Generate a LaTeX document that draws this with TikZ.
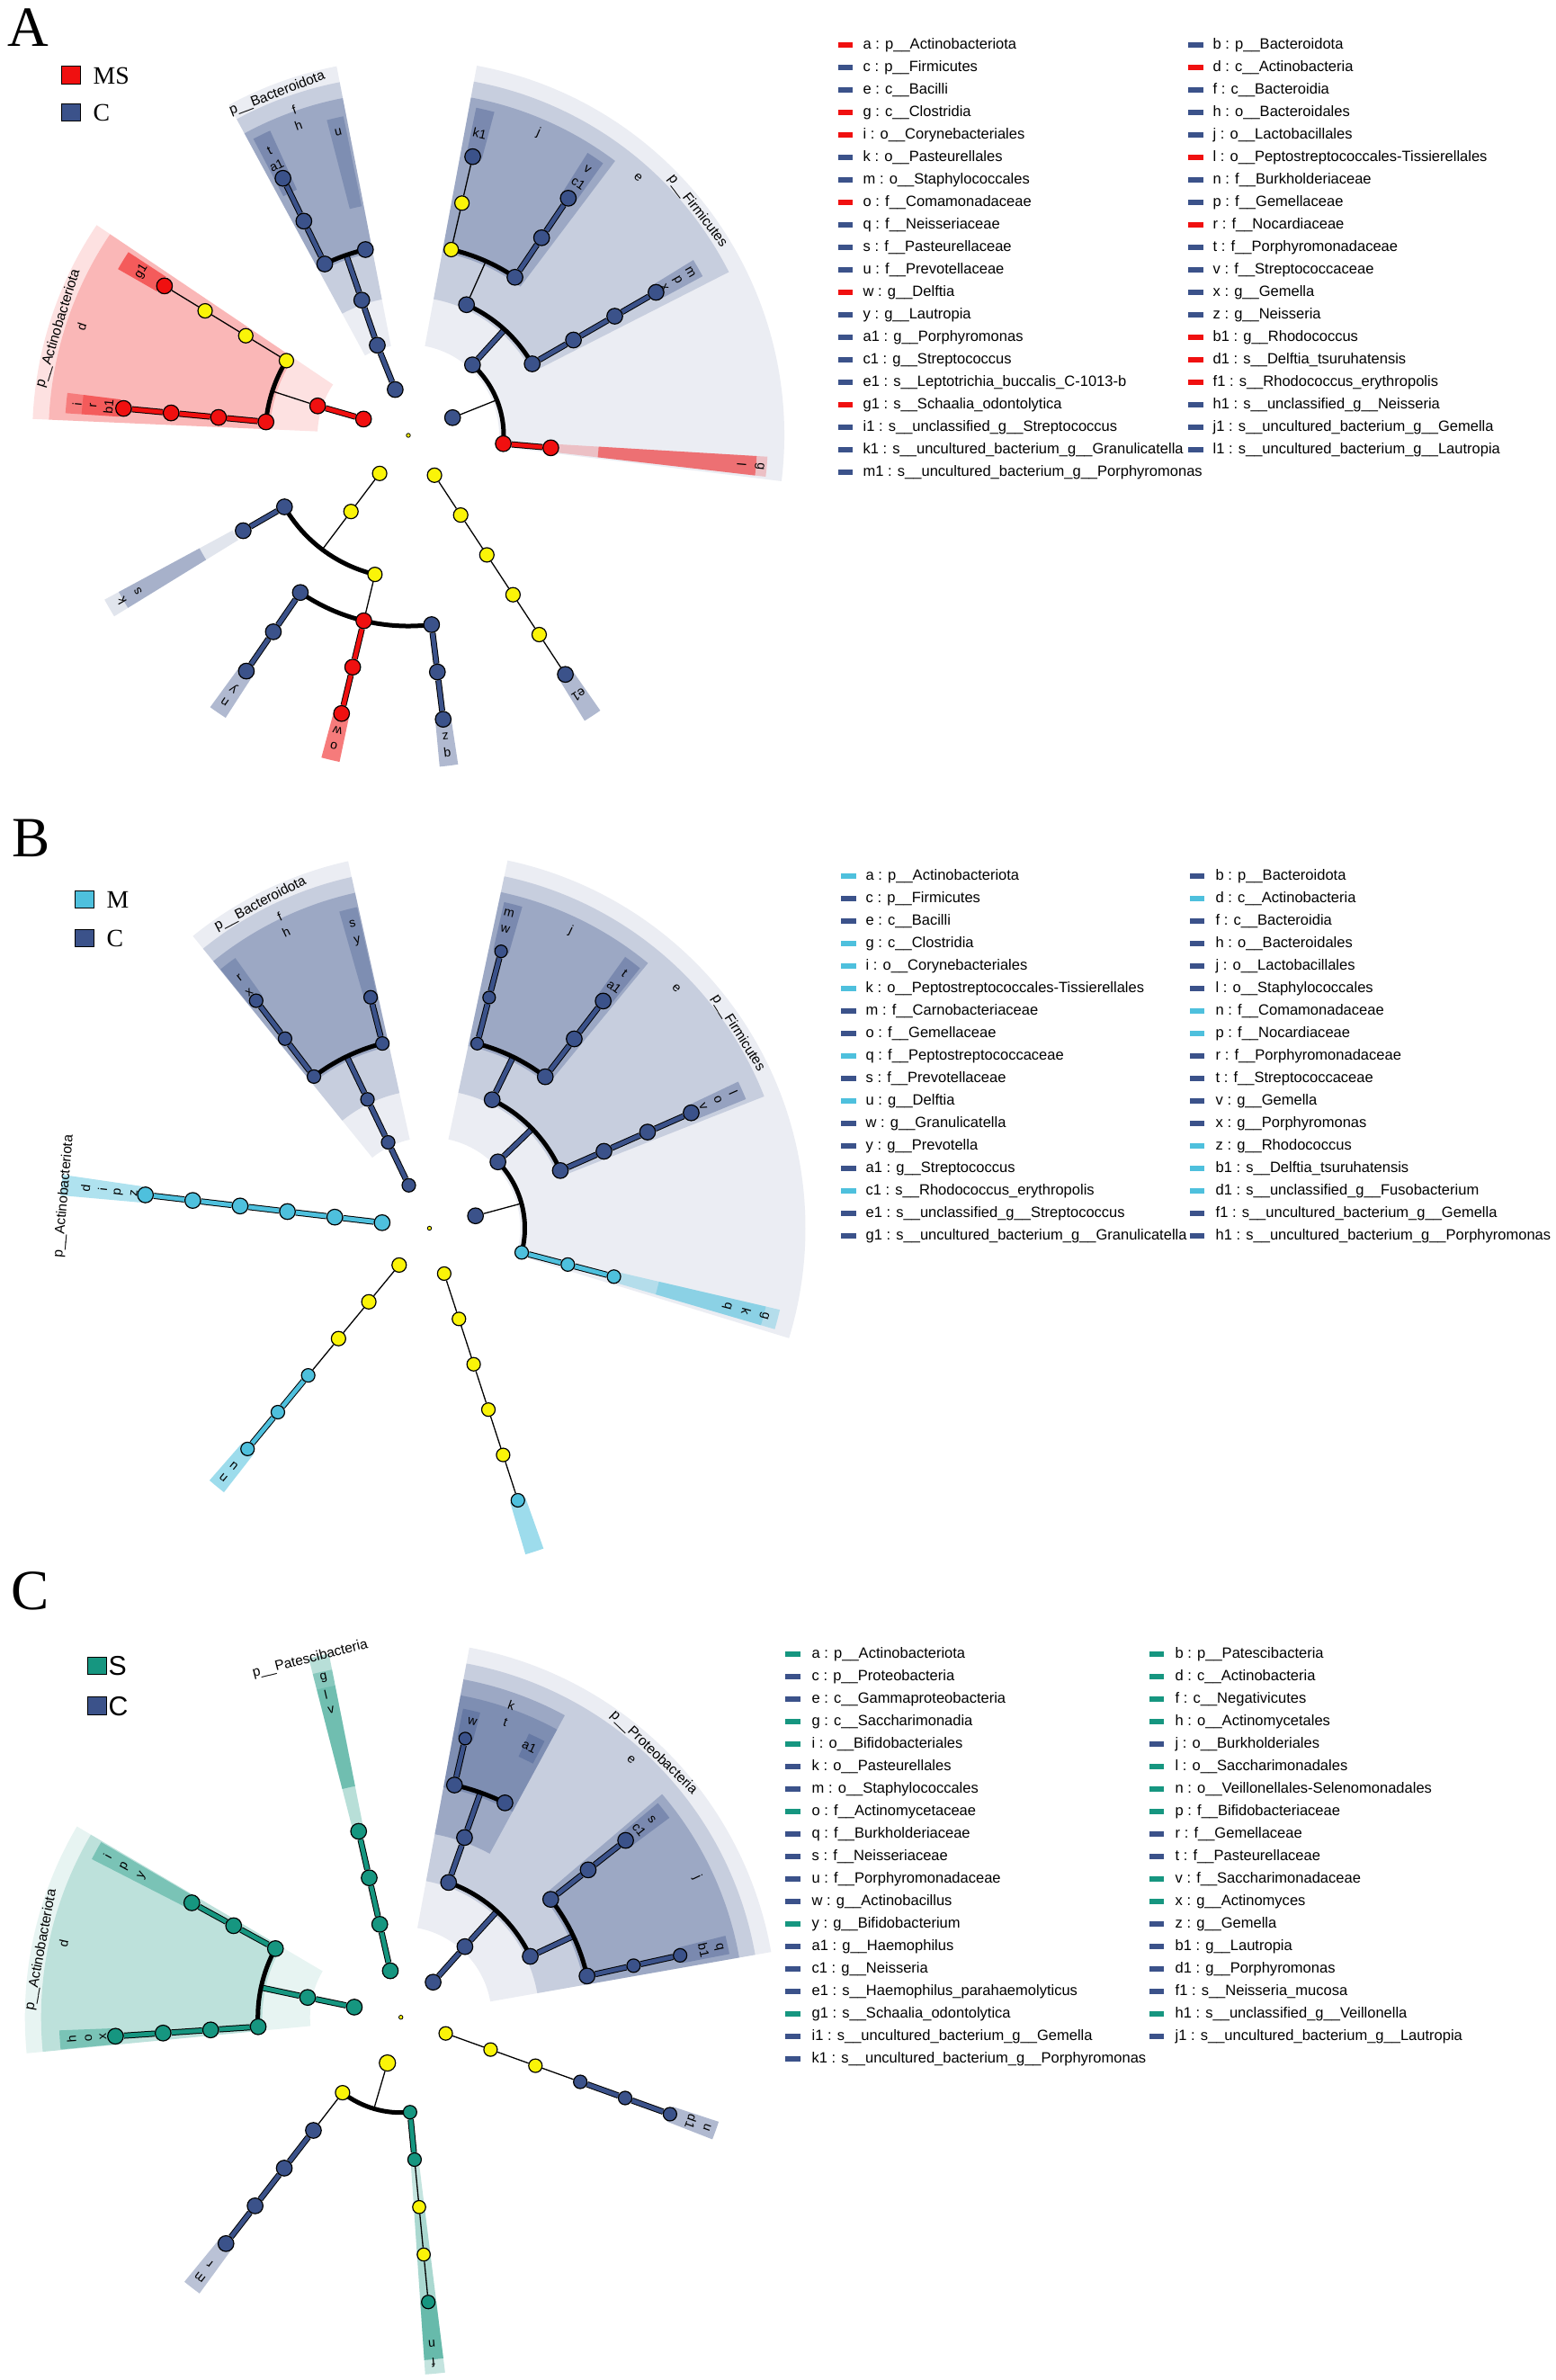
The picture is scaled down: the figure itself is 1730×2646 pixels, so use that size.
\documentclass[tikz,border=0pt]{standalone}
\usepackage{fontspec}
\setmainfont{Liberation Sans}
\newfontfamily\timesfont{Liberation Serif}
\usetikzlibrary{calc}

\definecolor{msred}{RGB}{240,16,16}
\definecolor{ctnavy}{RGB}{59,82,138}
\definecolor{mcyan}{RGB}{78,192,221}
\definecolor{steal}{RGB}{22,150,128}
\definecolor{nsyellow}{RGB}{250,244,8}

\pgfdeclarelayer{canvas}
\pgfdeclarelayer{sect}
\pgfdeclarelayer{link}
\pgfsetlayers{canvas,sect,link,main}

\tikzset{
  tx/.style={circle, draw=black, line width=0.12mm, minimum size=1.75mm, inner sep=0pt},
  ms/.style={tx, fill=msred},
  ct/.style={tx, fill=ctnavy},
  mm/.style={tx, fill=mcyan},
  ss/.style={tx, fill=steal},
  ns/.style={tx, fill=nsyellow, minimum size=1.6mm},
  root/.style={tx, fill=nsyellow, minimum size=0.45mm, line width=0.08mm},
  thin link/.style={draw=black, line width=0.13mm},
  sig link/.style={draw=black, line width=0.1mm, double=#1, double distance=0.48mm},
  clade arc/.style={draw=black, line width=0.5mm},
  clab/.style={inner sep=0pt, font=\fontsize{4}{4}\selectfont},
  phylab/.style={inner sep=0pt, font=\fontsize{4.4}{4.4}\selectfont},
  legtxt/.style={anchor=west, inner sep=0pt, font=\fontsize{4.7}{5}\selectfont},
  keybox/.style={rectangle, draw=black, line width=0.1mm, minimum width=2.1mm, minimum height=1.95mm, inner sep=0pt},
  keytxt/.style={anchor=west, inner sep=0pt, font=\timesfont\fontsize{7.9}{8}\selectfont},
  panlab/.style={inner sep=0pt, font=\timesfont\fontsize{18}{18}\selectfont}
}

% annular sector: start angle, end angle, inner r, outer r, colour, opacity
\newcommand{\cladebg}[6]{\fill[#5, fill opacity=#6] (#1:#3) arc[start angle=#1, end angle=#2, radius=#3] -- (#2:#4) arc[start angle=#2, end angle=#1, radius=#4] -- cycle;}
\newcommand{\cladelabel}[5][clab]{\node[#1, rotate={#3-90}] (#2) at (#3:#4) {#5};}

\begin{document}
\begin{tikzpicture}[x=0.1mm, y=0.1mm]
\useasboundingbox (0,0) rectangle (1730,-2646);
\begin{pgfonlayer}{canvas}
  \fill[white] (0,0) rectangle (1730,-2646);
\end{pgfonlayer}

% panel A
\node[panlab] (panA) at (31,-31) {A};
\node[keybox, fill=msred] (keyA1) at (78.7,-83.7) {};
\node[keytxt] (keyA1t) at (103,-84) {MS};
\node[keybox, fill=ctnavy] (keyA2) at (78.7,-125) {};
\node[keytxt] (keyA2t) at (103,-125) {C};

\begin{scope}[shift={(454,-484)}]
  \node[root] (Aroot) at (0,0) {};
  \node[ms] (Aa) at (160:53) {};
  \node[ms] (Ad) at (162:106) {};
  \coordinate (Adj) at (162:159);
  \node[ms] (Ai) at (174.6:159) {};
  \node[ms] (Ar) at (174.6:212) {};
  \node[ms] (Ab1) at (174.6:265) {};
  \node[ms] (Af1) at (174.6:318) {};
  \node[ns] (Ayac3) at (148.5:159) {};
  \node[ns] (Ayac4) at (148.5:212) {};
  \node[ns] (Ayac5) at (148.5:265) {};
  \node[ms] (Ag1) at (148.5:318) {};

  \node[ct] (Ab) at (106:53) {};
  \node[ct] (Af) at (109:106) {};
  \node[ct] (Ah) at (109:159) {};
  \coordinate (Ahj) at (109:212);
  \node[ct] (At) at (116:212) {};
  \node[ct] (Aa1) at (116:265) {};
  \node[ct] (Am1) at (116:318) {};
  \node[ct] (Au) at (103:212) {};

  \node[ct] (Ac) at (21.8:53) {};
  \coordinate (Acj) at (21.8:106);
  \node[ms] (Ag) at (-5:106) {};
  \node[ms] (Al) at (-5:159) {};
  \node[ct] (Ae) at (47.7:106) {};
  \coordinate (Aej) at (47.7:159);
  \node[ct] (Am) at (30:159) {};
  \node[ct] (Ap) at (30:212) {};
  \node[ct] (Ax) at (30:265) {};
  \node[ct] (Aj1) at (30:318) {};
  \node[ct] (Aj) at (66:159) {};
  \coordinate (Ajj) at (66:212);
  \node[ct] (Av) at (56:212) {};
  \node[ct] (Ac1) at (56:265) {};
  \node[ct] (Ai1) at (56:318) {};
  \node[ns] (Ayfi4) at (77:212) {};
  \node[ns] (Ayfi5) at (77:265) {};
  \node[ct] (Ak1) at (77:318) {};

  \node[ns] (Aypr1) at (233:53) {};
  \node[ns] (Aypr2) at (233:106) {};
  \coordinate (Aprj) at (233:159);
  \node[ct] (Ak) at (210:159) {};
  \node[ct] (As) at (210:212) {};
  \node[ns] (Aypr3) at (256.5:159) {};
  \node[ct] (An) at (235.5:212) {};
  \node[ct] (Ay) at (235.5:265) {};
  \node[ct] (Al1) at (235.5:318) {};
  \node[ms] (Ao) at (256.5:212) {};
  \node[ms] (Aw) at (256.5:265) {};
  \node[ms] (Ad1) at (256.5:318) {};
  \node[ct] (Aq) at (277:212) {};
  \node[ct] (Az) at (277:265) {};
  \node[ct] (Ah1) at (277:318) {};

  \node[ns] (Ayfu1) at (303.3:53) {};
  \node[ns] (Ayfu2) at (303.3:106) {};
  \node[ns] (Ayfu3) at (303.3:159) {};
  \node[ns] (Ayfu4) at (303.3:212) {};
  \node[ns] (Ayfu5) at (303.3:265) {};
  \node[ct] (Ae1) at (303.3:318) {};

  \begin{pgfonlayer}{link}
    \draw[sig link=msred] (Aa) -- (Ad);
    \draw[thin link] (Ad) -- (Adj);
    \draw[clade arc] (Ayac3.center) arc[start angle=148.5, end angle=174.6, radius=159];
    \draw[sig link=msred] (Ai) -- (Ar) -- (Ab1) -- (Af1);
    \draw[thin link] (Ayac3) -- (Ayac4) -- (Ayac5) -- (Ag1);
    \draw[sig link=ctnavy] (Ab) -- (Af) -- (Ah) -- (Ahj);
    \draw[clade arc] (Au.center) arc[start angle=103, end angle=116, radius=212];
    \draw[sig link=ctnavy] (At) -- (Aa1) -- (Am1);
    \draw[thin link] (Ac) -- (Acj);
    \draw[clade arc] (Ag.center) arc[start angle=-5, end angle=47.7, radius=106];
    \draw[sig link=msred] (Ag) -- (Al);
    \draw[sig link=ctnavy] (Ae) -- (Aej);
    \draw[clade arc] (Am.center) arc[start angle=30, end angle=66, radius=159];
    \draw[sig link=ctnavy] (Am) -- (Ap) -- (Ax) -- (Aj1);
    \draw[thin link] (Aj) -- (Ajj);
    \draw[clade arc] (Av.center) arc[start angle=56, end angle=77, radius=212];
    \draw[sig link=ctnavy] (Av) -- (Ac1) -- (Ai1);
    \draw[thin link] (Ayfi4) -- (Ayfi5) -- (Ak1);
    \draw[thin link] (Aypr1) -- (Aypr2) -- (Aprj);
    \draw[clade arc] (Ak.center) arc[start angle=210, end angle=256.5, radius=159];
    \draw[sig link=ctnavy] (Ak) -- (As);
    \draw[thin link] (Aypr3) -- (Ao);
    \draw[clade arc] (An.center) arc[start angle=235.5, end angle=277, radius=212];
    \draw[sig link=ctnavy] (An) -- (Ay) -- (Al1);
    \draw[sig link=msred] (Ao) -- (Aw) -- (Ad1);
    \draw[sig link=ctnavy] (Aq) -- (Az) -- (Ah1);
    \draw[thin link] (Ayfu1) -- (Ayfu2) -- (Ayfu3) -- (Ayfu4) -- (Ayfu5) -- (Ae1);
  \end{pgfonlayer}

  \begin{pgfonlayer}{sect}
    \cladebg{146}{177.5}{101}{418}{msred}{0.12}
    \cladebg{146}{177.5}{154}{400}{msred}{0.2}
    \cladebg{172.9}{176.3}{322}{382}{msred}{0.35}
    \cladebg{172.9}{176.3}{322}{364}{msred}{0.3}
    \cladebg{146.8}{150.2}{322}{372}{msred}{0.55}
    \cladebg{101}{118.5}{101}{418}{ctnavy}{0.1}
    \cladebg{101}{118.5}{154}{400}{ctnavy}{0.2}
    \cladebg{101}{118.5}{207}{382}{ctnavy}{0.3}
    \cladebg{101.5}{104.5}{260}{362}{ctnavy}{0.3}
    \cladebg{114.4}{117.6}{300}{372}{ctnavy}{0.35}
    \cladebg{-7}{79.5}{101}{418}{ctnavy}{0.1}
    \cladebg{27}{79.5}{154}{400}{ctnavy}{0.2}
    \cladebg{53}{79.5}{207}{382}{ctnavy}{0.3}
    \cladebg{28.4}{31.6}{318}{372}{ctnavy}{0.35}
    \cladebg{54.4}{57.6}{318}{372}{ctnavy}{0.35}
    \cladebg{75.1}{78.3}{318}{372}{ctnavy}{0.35}
    \cladebg{-6.6}{-3.4}{165}{400}{msred}{0.2}
    \cladebg{-6.6}{-3.4}{212}{388}{msred}{0.45}
    \cladebg{208.4}{211.6}{222}{384}{ctnavy}{0.15}
    \cladebg{208.4}{211.6}{264}{366}{ctnavy}{0.35}
    \cladebg{233.9}{237.1}{318}{374}{ctnavy}{0.4}
    \cladebg{254.9}{258.1}{318}{371}{msred}{0.55}
    \cladebg{275.4}{278.6}{318}{370}{ctnavy}{0.4}
    \cladebg{301.7}{304.9}{318}{373}{ctnavy}{0.4}
  \end{pgfonlayer}

  \cladelabel[phylab]{LAa}{163}{407}{p\_\_Actinobacteriota}
  \cladelabel{LAd}{161.6}{383}{d}
  \cladelabel{LAi}{174.6}{370}{i}
  \cladelabel{LAr}{174.6}{352}{r}
  \cladelabel{LAb1}{174.6}{335}{b1}
  \cladelabel{LAg1}{148.5}{348}{g1}
  \cladelabel[phylab]{LAb}{111}{407}{p\_\_Bacteroidota}
  \cladelabel{LAf}{109.3}{384}{f}
  \cladelabel{LAh}{109.5}{366}{h}
  \cladelabel{LAu}{103}{346}{u}
  \cladelabel{LAt}{116}{352}{t}
  \cladelabel{LAa1}{116}{334}{a1}
  \cladelabel[phylab]{LAc}{37.8}{407}{p\_\_Firmicutes}
  \cladelabel{LAe}{48.3}{384}{e}
  \cladelabel{LAj}{66.7}{366}{j}
  \cladelabel{LAm}{30}{362}{m}
  \cladelabel{LAp}{30}{345}{p}
  \cladelabel{LAx}{30}{329}{x}
  \cladelabel{LAv}{56}{356}{v}
  \cladelabel{LAc1}{56}{338}{c1}
  \cladelabel{LAk1}{76.7}{345}{k1}
  \cladelabel{LAg}{-5}{392}{g}
  \cladelabel{LAl}{-5}{372}{l}
  \cladelabel{LAk}{210}{368}{k}
  \cladelabel{LAs}{210}{347}{s}
  \cladelabel{LAn}{235.5}{360}{n}
  \cladelabel{LAy}{235.5}{342}{y}
  \cladelabel{LAo}{256.5}{355}{o}
  \cladelabel{LAw}{256.5}{337}{w}
  \cladelabel{LAq}{277}{355}{q}
  \cladelabel{LAz}{277}{337}{z}
  \cladelabel{LAe1}{303.3}{345}{e1}
\end{scope}

\foreach \col/\txt [count=\i from 0] in {msred/{a : p\_\_Actinobacteriota}, ctnavy/{c : p\_\_Firmicutes}, ctnavy/{e : c\_\_Bacilli}, msred/{g : c\_\_Clostridia}, msred/{i : o\_\_Corynebacteriales}, ctnavy/{k : o\_\_Pasteurellales}, ctnavy/{m : o\_\_Staphylococcales}, msred/{o : f\_\_Comamonadaceae}, ctnavy/{q : f\_\_Neisseriaceae}, ctnavy/{s : f\_\_Pasteurellaceae}, ctnavy/{u : f\_\_Prevotellaceae}, msred/{w : g\_\_Delftia}, ctnavy/{y : g\_\_Lautropia}, ctnavy/{a1 : g\_\_Porphyromonas}, ctnavy/{c1 : g\_\_Streptococcus}, ctnavy/{e1 : s\_\_Leptotrichia\_buccalis\_C-1013-b}, msred/{g1 : s\_\_Schaalia\_odontolytica}, ctnavy/{i1 : s\_\_unclassified\_g\_\_Streptococcus}, ctnavy/{k1 : s\_\_uncultured\_bacterium\_g\_\_Granulicatella}, ctnavy/{m1 : s\_\_uncultured\_bacterium\_g\_\_Porphyromonas}}{
  \fill[\col] (932,{-50-25*\i+3}) rectangle (948,{-50-25*\i-3});
  \node[legtxt] (legAL\i) at (959,{-50-25*\i}) {\txt};
}
\foreach \col/\txt [count=\i from 0] in {ctnavy/{b : p\_\_Bacteroidota}, msred/{d : c\_\_Actinobacteria}, ctnavy/{f : c\_\_Bacteroidia}, ctnavy/{h : o\_\_Bacteroidales}, ctnavy/{j : o\_\_Lactobacillales}, msred/{l : o\_\_Peptostreptococcales-Tissierellales}, ctnavy/{n : f\_\_Burkholderiaceae}, ctnavy/{p : f\_\_Gemellaceae}, msred/{r : f\_\_Nocardiaceae}, ctnavy/{t : f\_\_Porphyromonadaceae}, ctnavy/{v : f\_\_Streptococcaceae}, ctnavy/{x : g\_\_Gemella}, ctnavy/{z : g\_\_Neisseria}, msred/{b1 : g\_\_Rhodococcus}, msred/{d1 : s\_\_Delftia\_tsuruhatensis}, msred/{f1 : s\_\_Rhodococcus\_erythropolis}, ctnavy/{h1 : s\_\_unclassified\_g\_\_Neisseria}, ctnavy/{j1 : s\_\_uncultured\_bacterium\_g\_\_Gemella}, ctnavy/{l1 : s\_\_uncultured\_bacterium\_g\_\_Lautropia}}{
  \fill[\col] (1321,{-50-25*\i+3}) rectangle (1338,{-50-25*\i-3});
  \node[legtxt] (legAR\i) at (1348,{-50-25*\i}) {\txt};
}

% panel B
\node[panlab] (panB) at (35,-932) {B};
\node[keybox, fill=mcyan] (keyB1) at (93.5,-1000) {};
\node[keytxt] (keyB1t) at (118,-1000) {M};
\node[keybox, fill=ctnavy] (keyB2) at (93.5,-1043) {};
\node[keytxt] (keyB2t) at (118,-1043) {C};

\begin{scope}[shift={(477.5,-1365.5)}]
  \node[root] (Broot) at (0,0) {};
  \node[mm] (Ba) at (173.3:53) {};
  \node[mm] (Bd) at (173.3:106) {};
  \node[mm] (Bi) at (173.3:159) {};
  \node[mm] (Bp) at (173.3:212) {};
  \node[mm] (Bz) at (173.3:265) {};
  \node[mm] (Bc1) at (173.3:318) {};

  \node[ct, minimum size=1.5mm] (Bb) at (115.7:53) {};
  \node[ct, minimum size=1.5mm] (Bf) at (115.7:106) {};
  \node[ct, minimum size=1.5mm] (Bh) at (115.7:159) {};
  \coordinate (Bhj) at (115.7:212);
  \node[ct, minimum size=1.5mm] (Br) at (127.3:212) {};
  \node[ct, minimum size=1.5mm] (Bx) at (127.3:265) {};
  \node[ct, minimum size=1.5mm] (Bh1) at (127.3:318) {};
  \node[ct, minimum size=1.5mm] (Bs) at (104.3:212) {};
  \node[ct, minimum size=1.5mm] (By) at (104.3:265) {};

  \node[ct] (Bc) at (15.1:53) {};
  \coordinate (Bcj) at (15.1:106);
  \node[mm, minimum size=1.5mm] (Bg) at (-14.7:106) {};
  \node[mm, minimum size=1.5mm] (Bk) at (-14.7:159) {};
  \node[mm, minimum size=1.5mm] (Bq) at (-14.7:212) {};
  \node[ct] (Be) at (44.1:106) {};
  \coordinate (Bej) at (44.1:159);
  \node[ct] (Bl) at (23.8:159) {};
  \node[ct] (Bo) at (23.8:212) {};
  \node[ct] (Bv) at (23.8:265) {};
  \node[ct] (Bf1) at (23.8:318) {};
  \node[ct] (Bj) at (64:159) {};
  \coordinate (Bjj) at (64:212);
  \node[ct] (Bt) at (52.6:212) {};
  \node[ct] (Ba1) at (52.6:265) {};
  \node[ct] (Be1) at (52.6:318) {};
  \node[ct, minimum size=1.4mm] (Bm) at (75.5:212) {};
  \node[ct, minimum size=1.4mm] (Bw) at (75.5:265) {};
  \node[ct, minimum size=1.4mm] (Bg1) at (75.5:318) {};

  \node[ns] (Bypr1) at (230.5:53) {};
  \node[ns] (Bypr2) at (230.5:106) {};
  \node[ns] (Bypr3) at (230.5:159) {};
  \node[mm, minimum size=1.5mm] (Bn) at (230.5:212) {};
  \node[mm, minimum size=1.5mm] (Bu) at (230.5:265) {};
  \node[mm, minimum size=1.5mm] (Bb1) at (230.5:318) {};

  \node[ns, minimum size=1.5mm] (Byfu1) at (288:53) {};
  \node[ns, minimum size=1.5mm] (Byfu2) at (288:106) {};
  \node[ns, minimum size=1.5mm] (Byfu3) at (288:159) {};
  \node[ns, minimum size=1.5mm] (Byfu4) at (288:212) {};
  \node[ns, minimum size=1.5mm] (Byfu5) at (288:265) {};
  \node[mm, minimum size=1.5mm] (Bd1) at (288:318) {};

  \begin{pgfonlayer}{link}
    \draw[sig link=mcyan] (Ba) -- (Bd) -- (Bi) -- (Bp) -- (Bz) -- (Bc1);
    \draw[sig link=ctnavy] (Bb) -- (Bf) -- (Bh) -- (Bhj);
    \draw[clade arc] (Bs.center) arc[start angle=104.3, end angle=127.3, radius=212];
    \draw[sig link=ctnavy] (Br) -- (Bx) -- (Bh1);
    \draw[sig link=ctnavy] (Bs) -- (By);
    \draw[thin link] (Bc) -- (Bcj);
    \draw[clade arc] (Bg.center) arc[start angle=-14.7, end angle=44.1, radius=106];
    \draw[sig link=mcyan] (Bg) -- (Bk) -- (Bq);
    \draw[sig link=ctnavy] (Be) -- (Bej);
    \draw[clade arc] (Bl.center) arc[start angle=23.8, end angle=64, radius=159];
    \draw[sig link=ctnavy] (Bl) -- (Bo) -- (Bv) -- (Bf1);
    \draw[sig link=ctnavy] (Bj) -- (Bjj);
    \draw[clade arc] (Bt.center) arc[start angle=52.6, end angle=75.5, radius=212];
    \draw[sig link=ctnavy] (Bt) -- (Ba1) -- (Be1);
    \draw[sig link=ctnavy] (Bm) -- (Bw) -- (Bg1);
    \draw[thin link] (Bypr1) -- (Bypr2) -- (Bypr3) -- (Bn);
    \draw[sig link=mcyan] (Bn) -- (Bu) -- (Bb1);
    \draw[thin link] (Byfu1) -- (Byfu2) -- (Byfu3) -- (Byfu4) -- (Byfu5) -- (Bd1);
  \end{pgfonlayer}

  \begin{pgfonlayer}{sect}
    \cladebg{102.5}{129}{101}{418}{ctnavy}{0.1}
    \cladebg{102.5}{129}{154}{400}{ctnavy}{0.2}
    \cladebg{102.5}{129}{207}{382}{ctnavy}{0.3}
    \cladebg{125.7}{128.9}{318}{370}{ctnavy}{0.3}
    \cladebg{102.7}{105.9}{268}{366}{ctnavy}{0.3}
    \cladebg{-17}{78}{101}{418}{ctnavy}{0.1}
    \cladebg{21.5}{78}{154}{400}{ctnavy}{0.2}
    \cladebg{50.5}{78}{207}{382}{ctnavy}{0.3}
    \cladebg{22.2}{25.4}{318}{380}{ctnavy}{0.35}
    \cladebg{51}{54.2}{318}{372}{ctnavy}{0.35}
    \cladebg{73.9}{77.1}{318}{372}{ctnavy}{0.35}
    \cladebg{-16.3}{-13.1}{218}{400}{mcyan}{0.35}
    \cladebg{-16.3}{-13.1}{262}{384}{mcyan}{0.4}
    \cladebg{171.7}{174.9}{322}{412}{mcyan}{0.45}
    \cladebg{228.9}{232.1}{318}{372}{mcyan}{0.55}
    \cladebg{286.4}{289.6}{318}{378}{mcyan}{0.55}
  \end{pgfonlayer}

  \cladelabel[phylab]{LBa}{175}{408}{p\_\_Actinobacteriota}
  \cladelabel{LBd}{173.3}{385}{d}
  \cladelabel{LBi}{173.3}{366}{i}
  \cladelabel{LBp}{173.3}{348}{p}
  \cladelabel{LBz}{173.3}{331}{z}
  \cladelabel[phylab]{LBb}{117.5}{407}{p\_\_Bacteroidota}
  \cladelabel{LBf}{115.7}{384}{f}
  \cladelabel{LBh}{115.8}{366}{h}
  \cladelabel{LBr}{127.2}{349}{r}
  \cladelabel{LBx}{127.4}{330}{x}
  \cladelabel{LBs}{104.2}{349}{s}
  \cladelabel{LBy}{104.1}{329}{y}
  \cladelabel[phylab]{LBc}{32.3}{406}{p\_\_Firmicutes}
  \cladelabel{LBe}{44.2}{383}{e}
  \cladelabel{LBj}{64.6}{366}{j}
  \cladelabel{LBg}{-14.7}{385}{g}
  \cladelabel{LBk}{-14.7}{364}{k}
  \cladelabel{LBq}{-14.7}{342}{q}
  \cladelabel{LBl}{24}{370}{l}
  \cladelabel{LBo}{24}{351}{o}
  \cladelabel{LBv}{24}{333}{v}
  \cladelabel{LBm}{75.8}{361}{m}
  \cladelabel{LBw}{75.8}{343}{w}
  \cladelabel{LBt}{52.6}{357}{t}
  \cladelabel{LBa1}{52.6}{338}{a1}
  \cladelabel{LBn}{230.5}{360}{n}
  \cladelabel{LBu}{230.5}{342}{u}
\end{scope}

\foreach \col/\txt [count=\i from 0] in {mcyan/{a : p\_\_Actinobacteriota}, ctnavy/{c : p\_\_Firmicutes}, ctnavy/{e : c\_\_Bacilli}, mcyan/{g : c\_\_Clostridia}, mcyan/{i : o\_\_Corynebacteriales}, mcyan/{k : o\_\_Peptostreptococcales-Tissierellales}, ctnavy/{m : f\_\_Carnobacteriaceae}, ctnavy/{o : f\_\_Gemellaceae}, mcyan/{q : f\_\_Peptostreptococcaceae}, ctnavy/{s : f\_\_Prevotellaceae}, mcyan/{u : g\_\_Delftia}, ctnavy/{w : g\_\_Granulicatella}, ctnavy/{y : g\_\_Prevotella}, ctnavy/{a1 : g\_\_Streptococcus}, mcyan/{c1 : s\_\_Rhodococcus\_erythropolis}, ctnavy/{e1 : s\_\_unclassified\_g\_\_Streptococcus}, ctnavy/{g1 : s\_\_uncultured\_bacterium\_g\_\_Granulicatella}}{
  \fill[\col] (935,{-974-25*\i+3}) rectangle (952,{-974-25*\i-3});
  \node[legtxt] (legBL\i) at (962,{-974-25*\i}) {\txt};
}
\foreach \col/\txt [count=\i from 0] in {ctnavy/{b : p\_\_Bacteroidota}, mcyan/{d : c\_\_Actinobacteria}, ctnavy/{f : c\_\_Bacteroidia}, ctnavy/{h : o\_\_Bacteroidales}, ctnavy/{j : o\_\_Lactobacillales}, ctnavy/{l : o\_\_Staphylococcales}, mcyan/{n : f\_\_Comamonadaceae}, mcyan/{p : f\_\_Nocardiaceae}, ctnavy/{r : f\_\_Porphyromonadaceae}, ctnavy/{t : f\_\_Streptococcaceae}, ctnavy/{v : g\_\_Gemella}, ctnavy/{x : g\_\_Porphyromonas}, mcyan/{z : g\_\_Rhodococcus}, mcyan/{b1 : s\_\_Delftia\_tsuruhatensis}, mcyan/{d1 : s\_\_unclassified\_g\_\_Fusobacterium}, ctnavy/{f1 : s\_\_uncultured\_bacterium\_g\_\_Gemella}, ctnavy/{h1 : s\_\_uncultured\_bacterium\_g\_\_Porphyromonas}}{
  \fill[\col] (1323,{-974-25*\i+3}) rectangle (1339,{-974-25*\i-3});
  \node[legtxt] (legBR\i) at (1351,{-974-25*\i}) {\txt};
}

% panel C
\node[panlab] (panC) at (34,-1769) {C};
\node[keybox, fill=steal] (keyC1) at (108,-1852) {};
\node[keytxt, font=\fontsize{8.6}{9}\selectfont] (keyC1t) at (120,-1852) {S};
\node[keybox, fill=ctnavy] (keyC2) at (108,-1896.6) {};
\node[keytxt, font=\fontsize{8.6}{9}\selectfont] (keyC2t) at (120,-1896.6) {C};

\begin{scope}[shift={(445.7,-2242.7)}]
  \node[root] (Croot) at (0,0) {};
  \node[ss] (Cb) at (102.8:53) {};
  \node[ss] (Cg) at (102.8:106) {};
  \node[ss] (Cl) at (102.8:159) {};
  \node[ss] (Cv) at (102.8:212) {};

  \node[ss] (Ca) at (167.7:53) {};
  \node[ss] (Cd) at (168:106) {};
  \coordinate (Cdj) at (168:159);
  \node[ss] (Ci) at (151.3:159) {};
  \node[ss] (Cp) at (151.3:212) {};
  \node[ss] (Cy) at (151.3:265) {};
  \node[ss] (Ch) at (183.8:159) {};
  \node[ss] (Co) at (183.8:212) {};
  \node[ss] (Cx) at (183.8:265) {};
  \node[ss] (Cg1) at (183.8:318) {};

  \node[ct] (Cc) at (47.4:53) {};
  \node[ct] (Ce) at (47.8:106) {};
  \coordinate (Cej) at (47.8:159);
  \node[ct] (Ck) at (70.5:159) {};
  \node[ct] (Ct) at (70.5:212) {};
  \coordinate (Ctj) at (70.5:265);
  \node[ct] (Ca1) at (64.1:265) {};
  \node[ct] (Cw) at (77:265) {};
  \node[ct, minimum size=1.4mm] (Ce1) at (77:318) {};
  \node[ct] (Cj) at (25.2:159) {};
  \coordinate (Cjj) at (25.2:212);
  \node[ct] (Cs) at (38.2:212) {};
  \node[ct] (Cc1) at (38.2:265) {};
  \node[ct] (Cf1) at (38.2:318) {};
  \node[ct] (Cq) at (12.5:212) {};
  \node[ct, minimum size=1.5mm] (Cb1) at (12.5:265) {};
  \node[ct, minimum size=1.5mm] (Cj1) at (12.5:318) {};

  \node[ns, minimum size=1.8mm] (Cyfi1) at (253.6:53) {};
  \coordinate (Cfij) at (253.6:106);
  \node[ns] (Cyfi2) at (232.3:106) {};
  \node[ct] (Cm) at (232.3:159) {};
  \node[ct] (Cr) at (232.3:212) {};
  \node[ct] (Cz) at (232.3:265) {};
  \node[ct] (Ci1) at (232.3:318) {};
  \node[ss, minimum size=1.5mm] (Cf) at (275.5:106) {};
  \node[ss, minimum size=1.5mm] (Cn) at (275.5:159) {};
  \node[ns, minimum size=1.45mm] (Cyve4) at (275.5:212) {};
  \node[ns, minimum size=1.45mm] (Cyve5) at (275.5:265) {};
  \node[ss, minimum size=1.5mm] (Ch1) at (275.5:318) {};

  \node[ns, minimum size=1.5mm] (Cyba1) at (-19.8:53) {};
  \node[ns, minimum size=1.5mm] (Cyba2) at (-19.8:106) {};
  \node[ns, minimum size=1.5mm] (Cyba3) at (-19.8:159) {};
  \node[ct, minimum size=1.5mm] (Cu) at (-19.8:212) {};
  \node[ct, minimum size=1.5mm] (Cd1) at (-19.8:265) {};
  \node[ct, minimum size=1.5mm] (Ck1) at (-19.8:318) {};

  \begin{pgfonlayer}{link}
    \draw[sig link=steal] (Cb) -- (Cg) -- (Cl) -- (Cv);
    \draw[sig link=steal] (Ca) -- (Cd) -- (Cdj);
    \draw[clade arc] (Ci.center) arc[start angle=151.3, end angle=183.8, radius=159];
    \draw[sig link=steal] (Ci) -- (Cp) -- (Cy);
    \draw[sig link=steal] (Ch) -- (Co) -- (Cx) -- (Cg1);
    \draw[sig link=ctnavy] (Cc) -- (Ce) -- (Cej);
    \draw[clade arc] (Cj.center) arc[start angle=25.2, end angle=70.5, radius=159];
    \draw[sig link=ctnavy] (Ck) -- (Ct) -- (Ctj);
    \draw[clade arc] (Ca1.center) arc[start angle=64.1, end angle=77, radius=265];
    \draw[sig link=ctnavy] (Cw) -- (Ce1);
    \draw[sig link=ctnavy] (Cj) -- (Cjj);
    \draw[clade arc] (Cq.center) arc[start angle=12.5, end angle=38.2, radius=212];
    \draw[sig link=ctnavy] (Cs) -- (Cc1) -- (Cf1);
    \draw[sig link=ctnavy] (Cq) -- (Cb1) -- (Cj1);
    \draw[thin link] (Cyfi1) -- (Cfij);
    \draw[clade arc] (Cyfi2.center) arc[start angle=232.3, end angle=275.5, radius=106];
    \draw[thin link] (Cyfi2) -- (Cm);
    \draw[sig link=ctnavy] (Cm) -- (Cr) -- (Cz) -- (Ci1);
    \draw[sig link=steal] (Cf) -- (Cn);
    \draw[thin link] (Cn) -- (Cyve4) -- (Cyve5) -- (Ch1);
    \draw[thin link] (Cyba1) -- (Cyba2) -- (Cyba3) -- (Cu);
    \draw[sig link=ctnavy] (Cu) -- (Cd1) -- (Ck1);
  \end{pgfonlayer}

  \begin{pgfonlayer}{sect}
    \cladebg{101.2}{104.4}{212}{412}{steal}{0.3}
    \cladebg{101.2}{104.4}{262}{394}{steal}{0.3}
    \cladebg{101.2}{104.4}{262}{376}{steal}{0.2}
    \cladebg{149.5}{185.5}{101}{418}{steal}{0.1}
    \cladebg{149.5}{185.5}{154}{400}{steal}{0.2}
    \cladebg{149.7}{152.9}{270}{386}{steal}{0.4}
    \cladebg{182.2}{185.4}{322}{380}{steal}{0.4}
    \cladebg{10}{79.5}{101}{418}{ctnavy}{0.1}
    \cladebg{10}{79.5}{154}{400}{ctnavy}{0.2}
    \cladebg{61.5}{79.5}{207}{382}{ctnavy}{0.3}
    \cladebg{61.5}{79.5}{260}{364}{ctnavy}{0.3}
    \cladebg{10}{40.5}{207}{382}{ctnavy}{0.3}
    \cladebg{36.6}{39.8}{318}{372}{ctnavy}{0.35}
    \cladebg{10.9}{14.1}{318}{372}{ctnavy}{0.35}
    \cladebg{62.5}{65.7}{318}{346}{ctnavy}{0.35}
    \cladebg{75.4}{78.6}{318}{350}{ctnavy}{0.35}
    \cladebg{273.9}{277.1}{160}{398}{steal}{0.25}
    \cladebg{273.9}{277.1}{212}{382}{steal}{0.15}
    \cladebg{273.9}{277.1}{318}{382}{steal}{0.45}
    \cladebg{230.7}{233.9}{318}{380}{ctnavy}{0.35}
    \cladebg{-21.4}{-18.2}{318}{372}{ctnavy}{0.4}
  \end{pgfonlayer}

  \cladelabel[phylab]{LCb}{104.2}{411}{p\_\_Patescibacteria}
  \cladelabel{LCg}{102.8}{387}{g}
  \cladelabel{LCl}{103.1}{368}{l}
  \cladelabel{LCv}{102.8}{350}{v}
  \cladelabel[phylab]{LCa}{169.4}{407}{p\_\_Actinobacteriota}
  \cladelabel{LCd}{167.6}{384}{d}
  \cladelabel{LCi}{151.3}{372}{i}
  \cladelabel{LCp}{151.3}{350}{p}
  \cladelabel{LCy}{151.3}{328}{y}
  \cladelabel{LCh}{183.8}{367}{h}
  \cladelabel{LCo}{183.8}{348}{o}
  \cladelabel{LCx}{183.8}{332}{x}
  \cladelabel[phylab]{LCc}{46.3}{407}{p\_\_Proteobacteria}
  \cladelabel{LCe}{48.2}{384}{e}
  \cladelabel{LCk}{70.5}{368}{k}
  \cladelabel{LCt}{70.5}{348}{t}
  \cladelabel{LCa1}{64.6}{333}{a1}
  \cladelabel{LCw}{76.4}{338}{w}
  \cladelabel{LCj}{25.2}{364}{j}
  \cladelabel{LCs}{38.2}{355}{s}
  \cladelabel{LCc1}{38.2}{337}{c1}
  \cladelabel{LCq}{12.5}{362}{q}
  \cladelabel{LCb1}{12.5}{345}{b1}
  \cladelabel{LCf}{275.4}{386}{f}
  \cladelabel{LCn}{275.4}{365}{n}
  \cladelabel{LCm}{232.3}{365}{m}
  \cladelabel{LCr}{232.3}{347}{r}
  \cladelabel{LCu}{-19.8}{362}{u}
  \cladelabel{LCd1}{-19.8}{343}{d1}
\end{scope}

\foreach \col/\txt [count=\i from 0] in {steal/{a : p\_\_Actinobacteriota}, ctnavy/{c : p\_\_Proteobacteria}, ctnavy/{e : c\_\_Gammaproteobacteria}, steal/{g : c\_\_Saccharimonadia}, steal/{i : o\_\_Bifidobacteriales}, ctnavy/{k : o\_\_Pasteurellales}, ctnavy/{m : o\_\_Staphylococcales}, steal/{o : f\_\_Actinomycetaceae}, ctnavy/{q : f\_\_Burkholderiaceae}, ctnavy/{s : f\_\_Neisseriaceae}, ctnavy/{u : f\_\_Porphyromonadaceae}, ctnavy/{w : g\_\_Actinobacillus}, steal/{y : g\_\_Bifidobacterium}, ctnavy/{a1 : g\_\_Haemophilus}, ctnavy/{c1 : g\_\_Neisseria}, ctnavy/{e1 : s\_\_Haemophilus\_parahaemolyticus}, steal/{g1 : s\_\_Schaalia\_odontolytica}, ctnavy/{i1 : s\_\_uncultured\_bacterium\_g\_\_Gemella}, ctnavy/{k1 : s\_\_uncultured\_bacterium\_g\_\_Porphyromonas}}{
  \fill[\col] (873,{-1839-25*\i+3}) rectangle (890,{-1839-25*\i-3});
  \node[legtxt] (legCL\i) at (902,{-1839-25*\i}) {\txt};
}
\foreach \col/\txt [count=\i from 0] in {steal/{b : p\_\_Patescibacteria}, steal/{d : c\_\_Actinobacteria}, steal/{f : c\_\_Negativicutes}, steal/{h : o\_\_Actinomycetales}, ctnavy/{j : o\_\_Burkholderiales}, steal/{l : o\_\_Saccharimonadales}, steal/{n : o\_\_Veillonellales-Selenomonadales}, steal/{p : f\_\_Bifidobacteriaceae}, ctnavy/{r : f\_\_Gemellaceae}, ctnavy/{t : f\_\_Pasteurellaceae}, steal/{v : f\_\_Saccharimonadaceae}, steal/{x : g\_\_Actinomyces}, ctnavy/{z : g\_\_Gemella}, ctnavy/{b1 : g\_\_Lautropia}, ctnavy/{d1 : g\_\_Porphyromonas}, ctnavy/{f1 : s\_\_Neisseria\_mucosa}, steal/{h1 : s\_\_unclassified\_g\_\_Veillonella}, ctnavy/{j1 : s\_\_uncultured\_bacterium\_g\_\_Lautropia}}{
  \fill[\col] (1278,{-1839-25*\i+3}) rectangle (1294,{-1839-25*\i-3});
  \node[legtxt] (legCR\i) at (1306,{-1839-25*\i}) {\txt};
}
\end{tikzpicture}
\end{document}
